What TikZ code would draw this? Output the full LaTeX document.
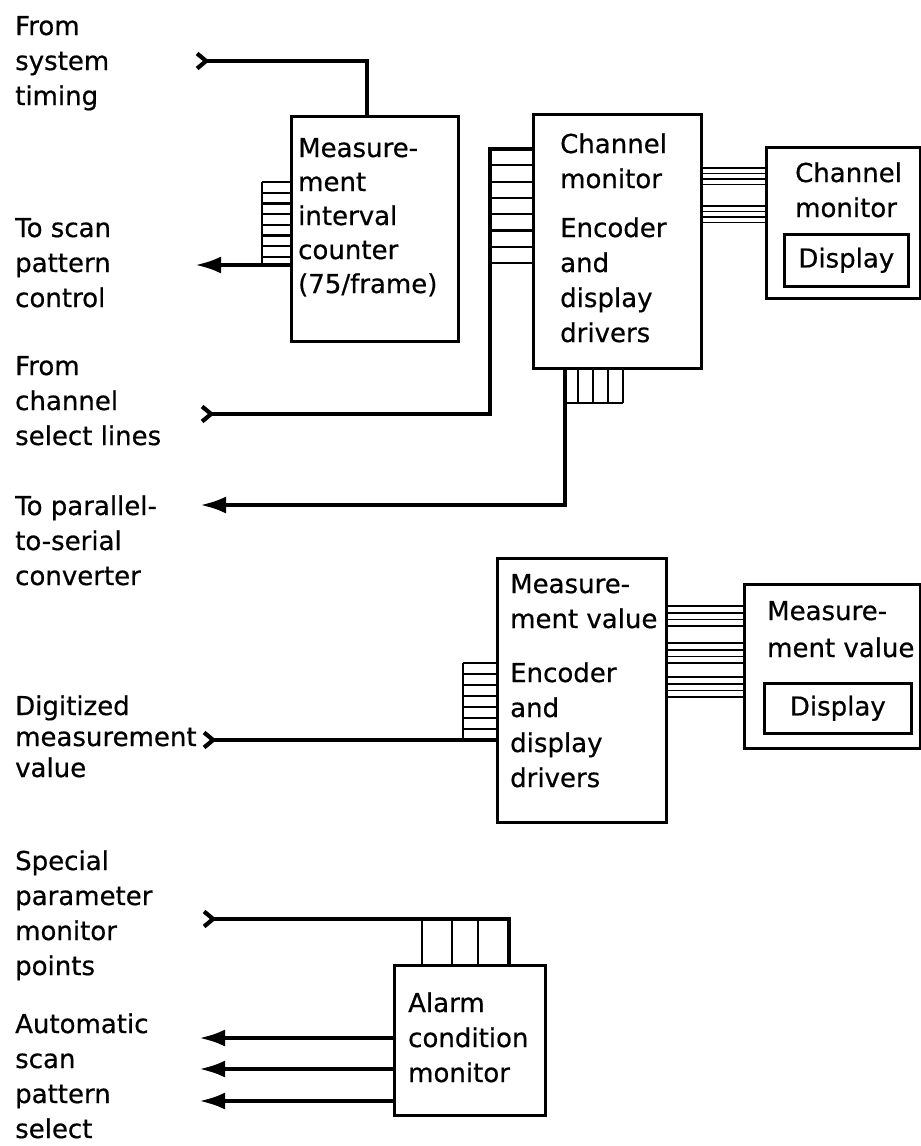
\documentclass[tikz,border=0pt]{standalone}
\usepackage{fontspec}
\setmainfont{DejaVu Sans}[FakeBold=0.6]
\usetikzlibrary{arrows.meta,calc}
\begin{document}
\begin{tikzpicture}[x=1pt,y=-1pt,
  lbl/.style={anchor=base west, align=left, inner sep=0pt, font=\fontsize{26}{35}\selectfont},
  blk/.style={draw, line width=3.2pt, anchor=north west, inner sep=0pt},
  inblk/.style={draw, line width=2.6pt, anchor=north west, inner sep=0pt},
  sig/.style={line width=4.2pt},
  bus/.style={line width=2.2pt},
  par/.style={line width=1.7pt},
  outarr/.style={sig, -{Latex[length=26pt,width=17pt]}},
  inarr/.style={sig, {Straight Barb[reversed,length=9pt,width=15pt]}-},
]
\useasboundingbox (0,0) rectangle (921,1146);

% ---------- left labels (anchor = baseline of last line) ----------
\node[lbl] (t1) at (15,105) {From\\system\\timing};
\node[lbl] (t2) at (15,307) {To scan\\pattern\\control};
\node[lbl] (t3) at (15,445) {From\\channel\\select lines};
\node[lbl] (t4) at (15,585) {To parallel-\\to-serial\\converter};
\node[lbl, font=\fontsize{26}{31}\selectfont] (t5) at (15,777) {Digitized\\measurement\\value};
\node[lbl] (t6) at (15,975) {Special\\parameter\\monitor\\points};
\node[lbl] (t7) at (15,1138) {Automatic\\scan\\pattern\\select};

% ---------- boxes ----------
\node[blk, minimum width=167pt, minimum height=225pt] (cnt) at (290,115) {};
\node[blk, minimum width=168pt, minimum height=254pt] (chm) at (532,113) {};
\node[blk, minimum width=154pt, minimum height=151pt] (chd) at (765,146) {};
\node[inblk, minimum width=124pt, minimum height=52pt] (chdi) at (783,233) {};
\node[blk, minimum width=169pt, minimum height=264pt] (mvm) at (496,557) {};
\node[blk, minimum width=176pt, minimum height=164pt] (mvd) at (743,583) {};
\node[inblk, minimum width=147pt, minimum height=50pt] (mvdi) at (763,682) {};
\node[blk, minimum width=151pt, minimum height=150pt] (alm) at (393,964) {};

% ---------- box texts ----------
\node[lbl, font=\fontsize{26}{34}\selectfont] (cntt) at (298,293) {Measure-\\ment\\interval\\counter\\(75/frame)};
\node[lbl] (chmt) at (560,188) {Channel\\monitor};
\node[lbl] (chmt2) at (560,342) {Encoder\\and\\display\\drivers};
\node[lbl] (chdt) at (795,217) {Channel\\monitor};
\node[inner sep=0pt, font=\fontsize{26}{35}\selectfont] (chdit) at (chdi.center) {Display};
\node[lbl] (mvmt) at (510,628) {Measure-\\ment value};
\node[lbl] (mvmt2) at (510,787) {Encoder\\and\\display\\drivers};
\node[lbl, font=\fontsize{26}{37}\selectfont] (mvdt) at (767,657) {Measure-\\ment value};
\node[inner sep=0pt, font=\fontsize{26}{35}\selectfont] (mvdit) at (mvdi.center) {Display};
\node[lbl] (almt) at (408,1082) {Alarm\\condition\\monitor};

% ---------- system timing input ----------
\coordinate (in1) at (195,61);
\draw[inarr] (in1) -| (cnt.north -| 367,0);

% ---------- counter ladder and output ----------
\coordinate (out1) at (195,265);
\draw[outarr] (cnt.west |- 0,265) -- (out1);
\draw[bus] (262,265) -- (262,182);
\foreach \y in {182,192.7,203.4,214.1,224.8,235.5,246.2,256.9}
  \draw[bus] (262,\y) -- (cnt.west |- 0,\y);

% ---------- channel select input ladder ----------
\coordinate (in2) at (200,414);
\draw[inarr] (in2) -| (490,149) -- (chm.west |- 0,149);
\foreach \y in {165.3,181.6,197.9,214.2,230.5,246.8,263.1}
  \draw[bus] (490,\y) -- (chm.west |- 0,\y);

% ---------- channel monitor bottom ladder and output ----------
\coordinate (out2) at (200,505);
\draw[outarr] (chm.south -| 565,0) |- (out2);
\foreach \x in {578,593,608,623}
  \draw[bus] (chm.south -| \x,0) -- (\x,403);
\draw[bus] (565,403) -- (623,403);

% ---------- channel monitor to display ----------
\foreach \y in {168,173.5,179,184.5,206,211.5,217,222.5}
  \draw[par] (chm.east |- 0,\y) -- (chd.west |- 0,\y);

% ---------- digitized measurement input ladder ----------
\coordinate (in3) at (202,740);
\draw[inarr] (in3) -- (mvm.west |- 0,740);
\draw[bus] (463,740) -- (463,663);
\foreach \y in {663,674,685,696,707,718,729}
  \draw[bus] (463,\y) -- (mvm.west |- 0,\y);

% ---------- measurement value to display ----------
\foreach \y in {606,612.7,619.4,626.1, 643,649.7,656.4,663.1, 677,683.7,690.4,697.1}
  \draw[par] (mvm.east |- 0,\y) -- (mvd.west |- 0,\y);

% ---------- special parameter input ----------
\coordinate (in4) at (202,919);
\draw[inarr] (in4) -| (alm.north -| 509,0);
\foreach \x in {422,452,478}
  \draw[bus] (\x,919) -- (alm.north -| \x,0);

% ---------- alarm outputs ----------
\foreach \y/\n in {1038/a,1069/b,1101/c}{
  \coordinate (o\n) at (199,\y);
  \draw[outarr] (alm.west |- 0,\y) -- (o\n);
}
\end{tikzpicture}
\end{document}
